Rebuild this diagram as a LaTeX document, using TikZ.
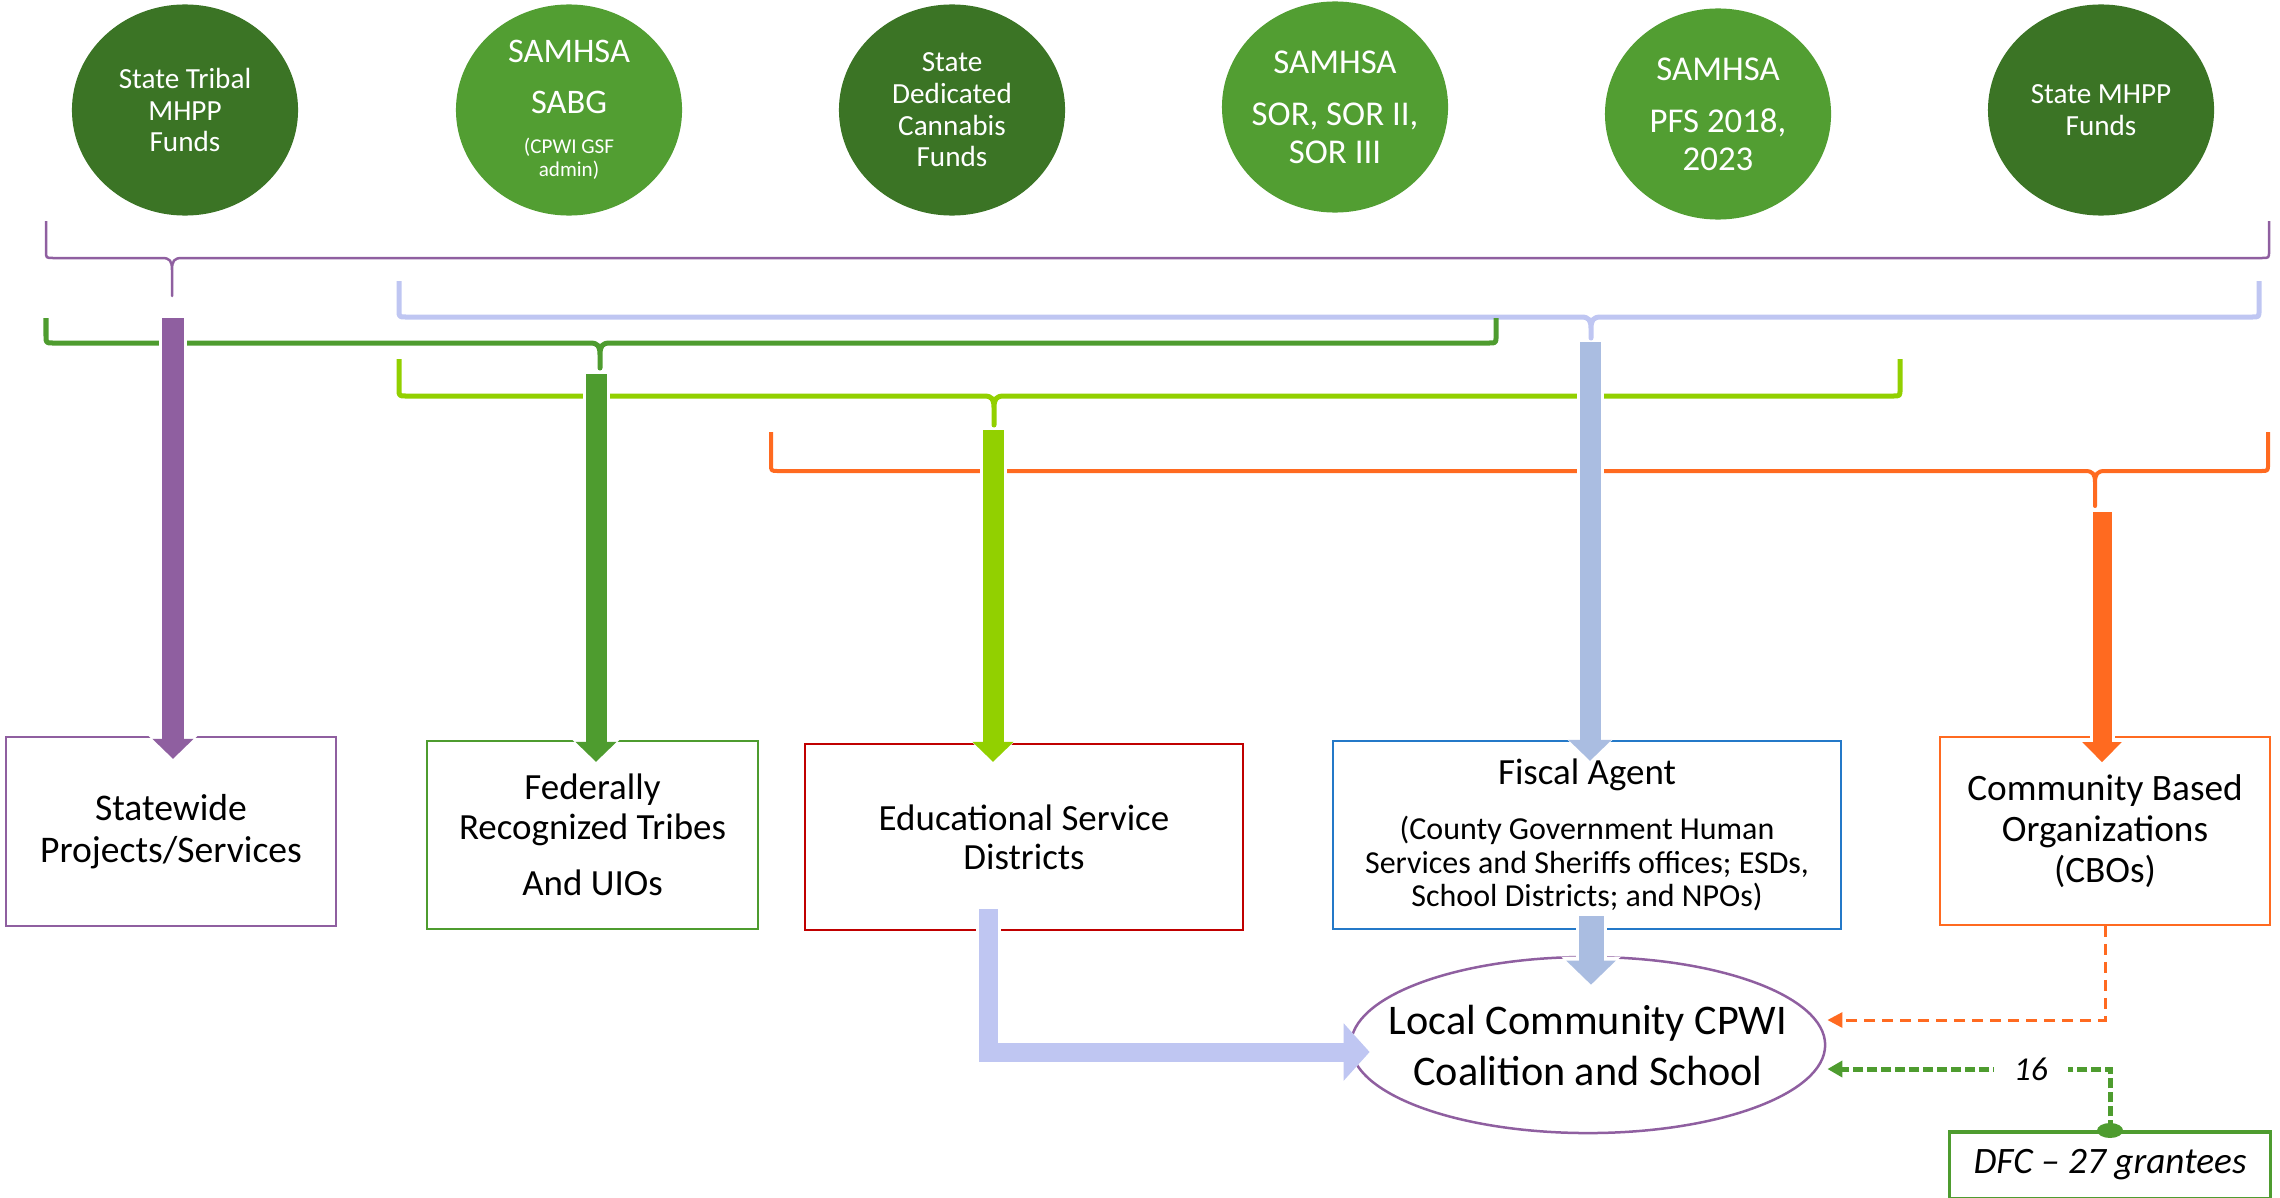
\documentclass[tikz,border=0pt]{standalone}
\usepackage{fontspec}
\setmainfont{Carlito}
\usetikzlibrary{arrows.meta,calc,shapes.geometric}

\definecolor{tribal}{HTML}{3B7425}
\definecolor{samhsa}{HTML}{529E32}
\definecolor{fundgreen}{HTML}{4E9C2F}
\definecolor{fundpurple}{HTML}{8F5FA0}
\definecolor{fundlime}{HTML}{92D000}
\definecolor{fundorange}{HTML}{FF6A20}
\definecolor{fundsteel}{HTML}{AABDE1}
\definecolor{fundlav}{HTML}{BFC6F2}
\definecolor{boxred}{HTML}{C00000}
\definecolor{boxblue}{HTML}{2479C8}

% funding bracket: colour, left x, right x, top of ends, line y, tip x, tip bottom y, width
\newcommand{\fundbrace}[8]{%
  \draw[#1, line width=#8, line join=round]
    (#2,#4) -- ({#2},{#5-7}) .. controls ({#2},{#5}) .. ({#2+7},{#5})
    -- ({#6-10},{#5}) .. controls ({#6-2},{#5}) and ({#6},{#5+3}) .. ({#6},{#5+12})
    -- ({#6},{#7}) -- ({#6},{#5+12}) .. controls ({#6},{#5+3}) and ({#6+2},{#5}) .. ({#6+10},{#5})
    -- ({#3-7},{#5}) .. controls ({#3},{#5}) .. ({#3},{#5-7}) -- (#3,#4);}

\begin{document}
\begin{tikzpicture}[x=0.01cm, y=-0.01cm,
  fund/.style={ellipse, minimum width=2.26cm, minimum height=2.11cm, inner sep=0pt},
  fundtext/.style={text=white, align=center, inner sep=0pt},
  dest/.style={rectangle, draw, line width=0.022cm, inner sep=0pt, align=center},
  fat/.style n args={4}{draw=#1, line width=#2, -{Triangle[width=#3,length=#4]}},
  halo/.style n args={3}{preaction={draw=white, line width=#1, -{Triangle[width=#2,length=#3]}}}]
\useasboundingbox (0,0) rectangle (2280,1197);

% funding sources
\node[fund, fill=tribal, label={[fundtext, font=\fontsize{8.3}{9}\selectfont]center:{State Tribal\\MHPP\\Funds}}] (tribalfunds) at (185,110) {};
\node[fund, fill=samhsa, label={[fundtext, font=\fontsize{9.8}{10.8}\selectfont]center:{SAMHSA\\[3.7pt]SABG\\[0.6pt]{\fontsize{6}{7}\selectfont (CPWI GSF}\\[-4.3pt]{\fontsize{6}{7}\selectfont admin)}}}] (sabg) at (569,110) {};
\node[fund, fill=tribal, label={[fundtext, font=\fontsize{8.3}{9}\selectfont]center:{State\\Dedicated\\Cannabis\\Funds}}] (cannabis) at (952,110) {};
\node[fund, fill=samhsa, label={[fundtext, font=\fontsize{9.9}{10.8}\selectfont]center:{SAMHSA\\[4pt]SOR, SOR II,\\SOR III}}] (sor) at (1335,107) {};
\node[fund, fill=samhsa, label={[fundtext, font=\fontsize{9.9}{10.8}\selectfont]center:{SAMHSA\\[4pt]PFS 2018,\\2023}}] (pfs) at (1718,114) {};
\node[fund, fill=tribal, label={[fundtext, font=\fontsize{8.3}{9}\selectfont]center:{State MHPP\\Funds}}] (mhpp) at (2101,110) {};

% recipients
\node[dest, draw=fundpurple, minimum width=3.30cm, minimum height=1.89cm, font=\fontsize{10.7}{11.95}\selectfont] (statewide) at (171,831.5) {Statewide\\Projects/Services};
\node[dest, draw=fundgreen, minimum width=3.31cm, minimum height=1.88cm, font=\fontsize{10.5}{11.4}\selectfont] (tribes) at (592.5,835) {Federally\\Recognized Tribes\\[4.5pt]And UIOs};
\node[dest, draw=boxred, minimum width=4.38cm, minimum height=1.86cm, font=\fontsize{10.5}{11.1}\selectfont] (esd) at (1024,837) {Educational Service\\Districts};
\node[dest, draw=boxblue, minimum width=5.08cm, minimum height=1.88cm, font=\fontsize{9.1}{9.5}\selectfont] (fiscal) at (1587,835) {{\fontsize{10.5}{11}\selectfont Fiscal Agent}\\[6.1pt](County Government Human\\Services and Sheriffs offices; ESDs,\\School Districts; and NPOs)};
\node[dest, draw=fundorange, line width=0.015cm, minimum width=3.30cm, minimum height=1.88cm, font=\fontsize{10.6}{11.7}\selectfont] (cbo) at (2105,831) {Community Based\\Organizations\\(CBOs)};
\node[dest, draw=fundgreen, line width=0.03cm, minimum width=3.20cm, minimum height=0.66cm, font=\itshape\fontsize{10.6}{12}\selectfont] (dfc) at (2110,1165) {DFC – 27 grantees};
\node[ellipse, draw=fundpurple, line width=0.025cm, minimum width=4.74cm, minimum height=1.76cm, inner sep=0pt, label={[align=center, inner sep=0pt, font=\fontsize{12}{14.5}\selectfont]center:{Local Community CPWI\\Coalition and School}}] (local) at (1588,1045) {};

% funding brackets
\fundbrace{fundpurple}{46}{2269}{221}{258}{172}{296}{0.025cm}
\fundbrace{fundlav}{399}{2259}{281}{317}{1591}{338}{0.05cm}
\fundbrace{fundgreen}{46}{1496}{318}{343}{600}{368}{0.05cm}
\fundbrace{fundlime}{399}{1900}{359}{396}{994}{425}{0.05cm}
\fundbrace{fundorange}{771}{2268}{432}{471}{2095}{506}{0.04cm}

% funding flows
\coordinate (srcP) at (173,318);
\coordinate (srcG) at (596,374);
\coordinate (srcL) at (993,430);
\coordinate (srcB) at (1590,342);
\coordinate (srcO) at (2102,512);
\draw[fat={fundpurple}{0.21cm}{0.40cm}{0.20cm}, halo={0.27cm}{0.50cm}{0.24cm}] (srcP) -- ($(srcP |- statewide.north)+(0,23)$);
\draw[fat={fundgreen}{0.21cm}{0.40cm}{0.20cm}, halo={0.27cm}{0.50cm}{0.24cm}] (srcG) -- ($(srcG |- tribes.north)+(0,22)$);
\draw[fat={fundlime}{0.21cm}{0.40cm}{0.20cm}, halo={0.27cm}{0.50cm}{0.24cm}] (srcL) -- ($(srcL |- esd.north)+(0,19)$);
\draw[fat={fundsteel}{0.21cm}{0.42cm}{0.21cm}, halo={0.27cm}{0.52cm}{0.25cm}] (srcB) -- ($(srcB |- fiscal.north)+(0,21)$);
\draw[fat={fundorange}{0.19cm}{0.38cm}{0.20cm}, halo={0.25cm}{0.48cm}{0.24cm}] (srcO) -- ($(srcO |- cbo.north)+(0,26)$);

% flows into the local coalition
\draw[fat={fundlav}{0.19cm}{0.56cm}{0.26cm}, halo={0.25cm}{0.64cm}{0.30cm}, line join=miter] ($(esd.south)+(-36,-22)$) |- ($(local.west)+(20,7)$);
\draw[fat={fundsteel}{0.25cm}{0.48cm}{0.24cm}, halo={0.31cm}{0.58cm}{0.28cm}] ($(fiscal.south)+(4,-14)$) -- ($(local.north)+(3,29)$);
\draw[fundorange, line width=0.03cm, dash pattern=on 0.11cm off 0.07cm, -{Triangle[width=0.15cm,length=0.15cm]}] (cbo.south) |- ($(local.east)+(1,-25)$);
\draw[fundgreen, line width=0.05cm, dash pattern=on 0.10cm off 0.04cm, -{Triangle[width=0.16cm,length=0.15cm]}] (dfc.north) |- node[pos=0.64, fill=white, inner xsep=0.2cm, inner ysep=0pt, text=black, font=\itshape\fontsize{9.5}{11}\selectfont] (grant16) {16} ($(local.east)+(1,24)$);
\fill[fundgreen] (dfc.north) ellipse [x radius=0.13cm, y radius=0.075cm];
\end{tikzpicture}
\end{document}
